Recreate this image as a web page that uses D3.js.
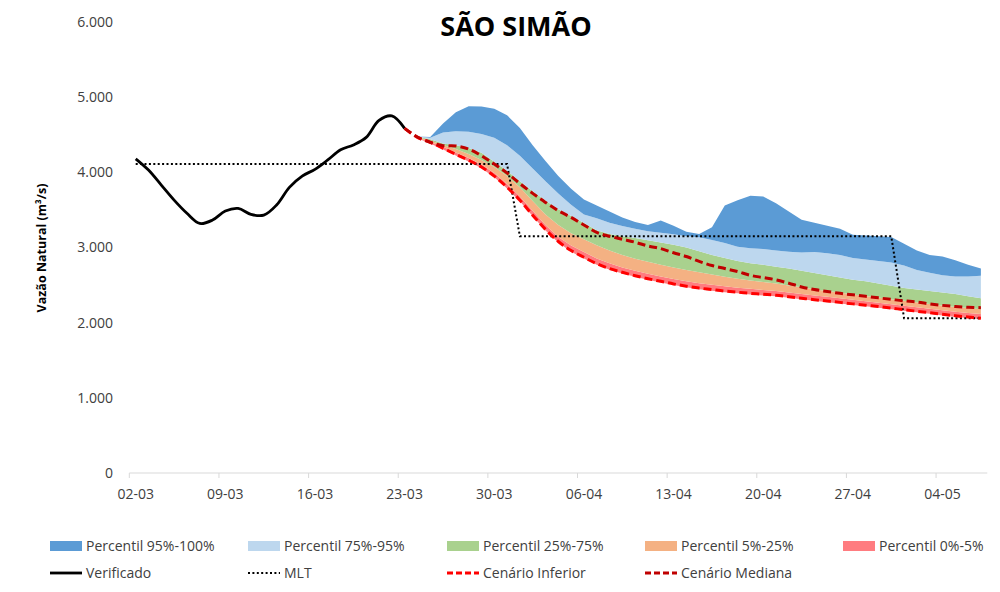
<!DOCTYPE html>
<html>
<head>
<meta charset="utf-8">
<script src="https://cdn.jsdelivr.net/npm/d3@7"></script>
<style>
  body { margin: 0; background: #ffffff; }
  svg { display: block; font-family: "Open Sans", "DejaVu Sans", sans-serif; }
</style>
</head>
<body>
<svg id="chart" width="1000" height="592"></svg>
<script>
// Daily categories, 02-03 to 07-05
const dates = [
  "02-03","03-03","04-03","05-03","06-03","07-03","08-03","09-03","10-03","11-03",
  "12-03","13-03","14-03","15-03","16-03","17-03","18-03","19-03","20-03","21-03",
  "22-03","23-03","24-03","25-03","26-03","27-03","28-03","29-03","30-03","31-03",
  "01-04","02-04","03-04","04-04","05-04","06-04","07-04","08-04","09-04","10-04",
  "11-04","12-04","13-04","14-04","15-04","16-04","17-04","18-04","19-04","20-04",
  "21-04","22-04","23-04","24-04","25-04","26-04","27-04","28-04","29-04","30-04",
  "01-05","02-05","03-05","04-05","05-05","06-05","07-05"
];
const tickDates = ["02-03","09-03","16-03","23-03","30-03","06-04","13-04","20-04","27-04","04-05"];
const yTicks = [0, 1000, 2000, 3000, 4000, 5000, 6000];

// Observed flow (from 02-03)
const verificado = [4180, 4030, 3830, 3630, 3455, 3320, 3365, 3485, 3520, 3440, 3430,
  3565, 3800, 3950, 4040, 4165, 4300, 4365, 4465, 4690, 4750, 4585];

// Long-term monthly mean (MLT), one value per day
const mlt = [
  4110,4110,4110,4110,4110,4110,4110,4110,4110,4110,4110,4110,4110,4110,4110,
  4110,4110,4110,4110,4110,4110,4110,4110,4110,4110,4110,4110,4110,4110,4110,
  3150,3150,3150,3150,3150,3150,3150,3150,3150,3150,3150,3150,3150,3150,3150,
  3150,3150,3150,3150,3150,3150,3150,3150,3150,3150,3150,3150,3150,3150,3150,
  2060,2060,2060,2060,2060,2060,2060
];

// Scenario lines (from 23-03)
const scenarioStart = "23-03";
const cenarioInferior = [4585,4465,4400,4320,4240,4160,4070,3950,3800,3630,3430,3240,3080,2960,
  2870,2785,2720,2670,2625,2585,2550,2515,2485,2460,2440,2420,2405,2390,2378,2365,2345,2325,
  2305,2288,2270,2250,2232,2215,2195,2172,2152,2132,2112,2092,2076,2060];
const cenarioMediana = [4585,4470,4400,4355,4350,4310,4220,4110,3990,3850,3720,3600,3490,3400,
  3300,3200,3150,3110,3070,3020,2985,2930,2880,2815,2760,2720,2680,2630,2600,2570,2525,2475,
  2440,2415,2390,2370,2350,2330,2310,2290,2275,2250,2230,2215,2205,2200];

// Percentile envelopes (from 24-03)
const bandStart = "24-03";
const p0 = [4455,4385,4305,4225,4145,4055,3935,3785,3615,3415,3225,3065,2945,2855,2770,2705,
  2655,2610,2570,2535,2500,2470,2445,2425,2405,2390,2375,2363,2350,2330,2310,2290,2273,2255,
  2235,2217,2200,2180,2157,2137,2117,2097,2077,2061,2045];
const p5 = [4462,4405,4340,4265,4190,4105,3990,3845,3680,3490,3300,3140,3025,2940,2855,2790,
  2735,2690,2650,2615,2580,2550,2525,2505,2485,2465,2450,2435,2420,2400,2380,2360,2345,2325,
  2305,2285,2265,2245,2225,2205,2185,2165,2145,2130,2115];
const p25 = [4468,4425,4365,4310,4245,4165,4070,3950,3800,3620,3440,3300,3190,3110,3030,2960,
  2900,2850,2810,2770,2735,2700,2670,2640,2610,2585,2560,2540,2520,2495,2470,2445,2420,2400,
  2375,2355,2335,2310,2290,2270,2250,2230,2210,2195,2180];
const p75 = [4472,4440,4385,4360,4325,4260,4140,4020,3880,3750,3625,3510,3420,3325,3230,3180,
  3150,3125,3095,3065,3035,3000,2950,2900,2860,2820,2790,2770,2745,2720,2690,2660,2630,2600,
  2570,2550,2520,2490,2460,2440,2420,2400,2380,2350,2325];
const p95 = [4476,4460,4530,4545,4540,4510,4460,4360,4220,4050,3880,3720,3570,3440,3390,3330,
  3285,3250,3215,3195,3175,3150,3135,3100,3060,3010,2990,2980,2960,2945,2935,2940,2925,2900,
  2860,2840,2820,2800,2760,2700,2665,2630,2615,2615,2625];
const p100 = [4478,4470,4650,4800,4880,4875,4845,4760,4590,4360,4150,3950,3780,3640,3560,3480,
  3400,3340,3300,3360,3290,3210,3180,3270,3560,3630,3690,3680,3590,3480,3370,3330,3290,3250,
  3170,3160,3150,3140,3050,2960,2900,2880,2830,2770,2720];

const bands = [
  { name: "Percentil 95%-100%", lo: p95, hi: p100, color: "#5B9BD5" },
  { name: "Percentil 75%-95%",  lo: p75, hi: p95,  color: "#BDD7EE" },
  { name: "Percentil 25%-75%",  lo: p25, hi: p75,  color: "#A9D18E" },
  { name: "Percentil 5%-25%",   lo: p5,  hi: p25,  color: "#F4B183" },
  { name: "Percentil 0%-5%",    lo: p0,  hi: p5,   color: "#FF7C80" }
];

const svg = d3.select("#chart");
const x = d3.scaleBand().domain(dates).range([129.3, 987.3]).padding(0);
const bw = x.bandwidth();
const cx = d => x(d) + bw / 2;
const y = d3.scaleLinear().domain([0, 6000]).range([473, 22]);

const ptBr = d3.formatLocale({ decimal: ",", thousands: ".", grouping: [3], currency: ["R$", ""] });
const fmt = ptBr.format(",");

// helper to pair a series with its dates starting at a given category
const seriesFrom = (start, vals) => {
  const i0 = dates.indexOf(start);
  return vals.map((v, k) => ({ d: dates[i0 + k], v }));
};

// Title
svg.append("text")
  .attr("x", 516).attr("y", 36)
  .attr("text-anchor", "middle")
  .attr("font-size", 27).attr("font-weight", 700)
  .attr("fill", "#000")
  .text("SÃO SIMÃO");

// Y axis (labels only)
const yAxis = svg.append("g")
  .attr("transform", "translate(120,0)")
  .call(d3.axisLeft(y).tickValues(yTicks).tickFormat(fmt).tickSize(0).tickPadding(7));
yAxis.select(".domain").remove();
yAxis.selectAll("text").attr("font-size", 14).attr("fill", "#404040")
  .attr("font-family", "'Open Sans', sans-serif");

svg.append("text")
  .attr("transform", "translate(46,248) rotate(-90)")
  .attr("text-anchor", "middle")
  .attr("font-size", 12.5).attr("font-weight", 700).attr("fill", "#000")
  .text("Vazão Natural (m³/s)");

// Percentile areas
const bandRows = dates.slice(dates.indexOf(bandStart));
bands.slice().reverse().forEach(b => {
  const rows = bandRows.map((d, k) => ({ d, lo: b.lo[k], hi: b.hi[k] }));
  svg.append("path")
    .datum(rows)
    .attr("fill", b.color)
    .attr("d", d3.area().x(r => cx(r.d)).y0(r => y(r.lo)).y1(r => y(r.hi)));
});

// X axis
const xg = svg.append("g");
xg.append("line")
  .attr("x1", x.range()[0]).attr("x2", x.range()[1])
  .attr("y1", y(0)).attr("y2", y(0))
  .attr("stroke", "#D9D9D9").attr("stroke-width", 1);
xg.selectAll("line.tick").data(tickDates).join("line")
  .attr("class", "tick")
  .attr("x1", d => x(d)).attr("x2", d => x(d))
  .attr("y1", y(0)).attr("y2", y(0) + 5)
  .attr("stroke", "#D9D9D9").attr("stroke-width", 1);
xg.selectAll("text").data(tickDates).join("text")
  .attr("x", d => cx(d)).attr("y", y(0) + 26)
  .attr("text-anchor", "middle")
  .attr("font-size", 14).attr("fill", "#404040")
  .text(d => d);

// MLT (dotted)
svg.append("path")
  .datum(dates.map((d, k) => ({ d, v: mlt[k] })))
  .attr("fill", "none").attr("stroke", "#000").attr("stroke-width", 2)
  .attr("stroke-dasharray", "2 2.4")
  .attr("d", d3.line().x(r => cx(r.d)).y(r => y(r.v)));

// Observed flow
svg.append("path")
  .datum(verificado.map((v, k) => ({ d: dates[k], v })))
  .attr("fill", "none").attr("stroke", "#000").attr("stroke-width", 2.8)
  .attr("stroke-linejoin", "round")
  .attr("d", d3.line().curve(d3.curveCatmullRom.alpha(0.5)).x(r => cx(r.d)).y(r => y(r.v)));

// Scenario lines
const smooth = d3.line().curve(d3.curveCatmullRom.alpha(0.5)).x(r => cx(r.d)).y(r => y(r.v));
svg.append("path")
  .datum(seriesFrom(scenarioStart, cenarioInferior))
  .attr("fill", "none").attr("stroke", "#FF0000").attr("stroke-width", 3)
  .attr("stroke-dasharray", "8 4")
  .attr("d", smooth);
svg.append("path")
  .datum(seriesFrom(scenarioStart, cenarioMediana))
  .attr("fill", "none").attr("stroke", "#C00000").attr("stroke-width", 3)
  .attr("stroke-dasharray", "8 4")
  .attr("d", smooth);

// Legend
const legendX = [50, 248, 447, 645, 843];
const lg = svg.append("g").attr("font-size", 14).attr("fill", "#404040");
bands.forEach((b, i) => {
  lg.append("rect").attr("x", legendX[i]).attr("y", 541).attr("width", 32).attr("height", 10)
    .attr("fill", b.color);
  lg.append("text").attr("x", legendX[i] + 36).attr("y", 551).attr("fill", "#404040").text(b.name);
});
const lineItems = [
  { name: "Verificado", stroke: "#000", width: 2.8, dash: null },
  { name: "MLT", stroke: "#000", width: 2, dash: "2 2.4" },
  { name: "Cenário Inferior", stroke: "#FF0000", width: 3, dash: "6 3" },
  { name: "Cenário Mediana", stroke: "#C00000", width: 3, dash: "6 3" }
];
lineItems.forEach((it, i) => {
  lg.append("line").attr("x1", legendX[i]).attr("x2", legendX[i] + 32)
    .attr("y1", 573).attr("y2", 573)
    .attr("stroke", it.stroke).attr("stroke-width", it.width)
    .attr("stroke-dasharray", it.dash);
  lg.append("text").attr("x", legendX[i] + 36).attr("y", 578).attr("fill", "#404040").text(it.name);
});
</script>
</body>
</html>
